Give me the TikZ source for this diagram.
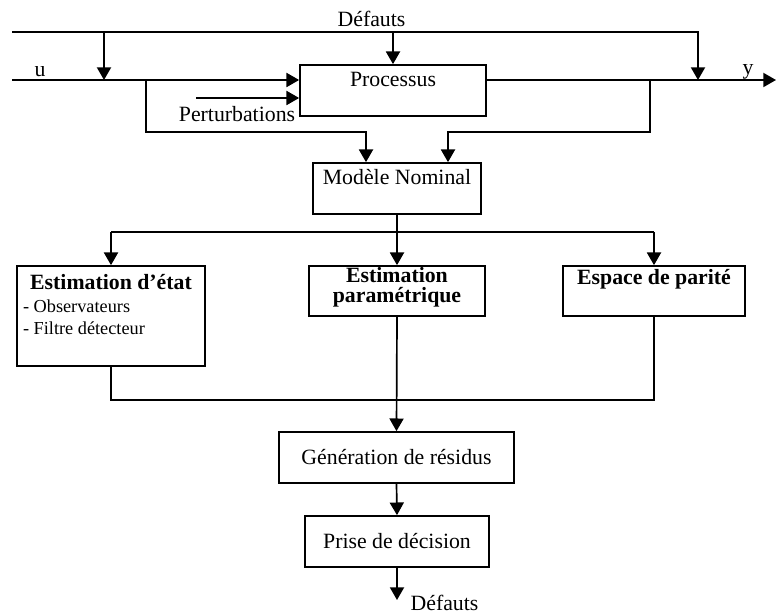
\documentclass[tikz,border=0pt]{standalone}
\usepackage{fontspec}
\setmainfont{Liberation Serif}
\usetikzlibrary{arrows.meta,calc,positioning}
\tikzset{>={Triangle[length=9pt,width=10pt]}}
\tikzset{block/.style = {draw, fill=white, rectangle, inner sep=0pt,
                  minimum height=1.275cm},
        headline/.style 2 args = {label={[anchor=base,inner sep=0pt,yshift=-#1]north:#2}},
        subline/.style 2 args = {label={[anchor=base west,inner sep=0pt,xshift=4.3pt,yshift=-#1,
                  font=\fontsize{13}{15}\selectfont]north west:#2}}
    }

\begin{document}
\begin{tikzpicture}[x=0.025cm, y=-0.025cm, line width=1.2pt, font=\fontsize{15.5}{18}\selectfont]
          \useasboundingbox (0,0) rectangle (776,615);

          \node[block, minimum width=4.65cm, headline={15.6pt}{Processus}] (proc) at (393,90.5) {};
          \node[block, minimum width=4.2cm, headline={15.6pt}{Modèle Nominal}] (mod) at (397,188.5) {};
          \node[block, minimum width=4.7cm, minimum height=2.5cm,
                headline={17pt}{\textbf{Estimation d’état}},
                subline={33.4pt}{- Observateurs},
                subline={49.1pt}{- Filtre détecteur}] (etat) at (111,316) {};
          \node[block, minimum width=4.4cm, minimum height=1.25cm,
                headline={12.1pt}{\textbf{Estimation}},
                headline={26.3pt}{\textbf{paramétrique}}] (param) at (397,291) {};
          \node[block, minimum width=4.55cm, minimum height=1.25cm,
                headline={13.5pt}{\textbf{Espace de parité}}] (parite) at (654,291) {};
          \node[block, minimum width=5.875cm] (gen) at (396.5,457.5) {Génération de résidus};
          \node[block, minimum width=4.6cm] (dec) at (397,541.5) {Prise de décision};

          \node[anchor=base] (defT) at (371.5,27) {Défauts};
          \node[anchor=base] (uT) at (40,77) {u};
          \node[anchor=base] (yT) at (748,75) {y};
          \node[anchor=base] (pertT) at (237,122) {Perturbations};
          \node[anchor=base] (defB) at (444.5,610) {Défauts};

          \coordinate (dl) at (12,32);
          \coordinate (dr) at (698,32);
          \coordinate (uin) at (12,80);
          \coordinate (yout) at (776,80);
          \coordinate (ua) at (104,80);
          \coordinate (pert) at (196,98);
          \coordinate (ub) at (146,80);
          \coordinate (yb) at (650,80);
          \coordinate (ml) at (366,132);
          \coordinate (mr) at (448,132);
          \coordinate (jn) at (397,232);
          \coordinate (jr) at (397,400);
          \coordinate (fout) at (397,600);

          \draw[->] (dl) -| (dr |- yout);
          \draw[->] (ua |- dl) -- (ua);
          \draw[->] (proc.north |- dl) -- (proc.north);
          \draw[->] (uin) -- (proc.west |- uin);
          \draw[->] (pert) -- (proc.west |- pert);
          \draw[->] (proc.east |- uin) -- (yout);
          \draw[->] (ub) |- (ml) -- (ml |- mod.north);
          \draw[->] (yb) |- (mr) -- (mr |- mod.north);

          \draw (etat.north |- jn) -- (parite.north |- jn);
          \draw[->] (mod.south) -- (param.north);
          \draw[->] (etat.north |- jn) -- (etat.north);
          \draw[->] (parite.north |- jn) -- (parite.north);

          \draw (etat.south) |- (parite.south |- jr) -- (parite.south);
          \draw[->] (param.south) -- (gen.north);
          \draw[->] (gen.south) -- (dec.north);
          \draw[->] (dec.south) -- (fout);
        \end{tikzpicture}
\end{document}
